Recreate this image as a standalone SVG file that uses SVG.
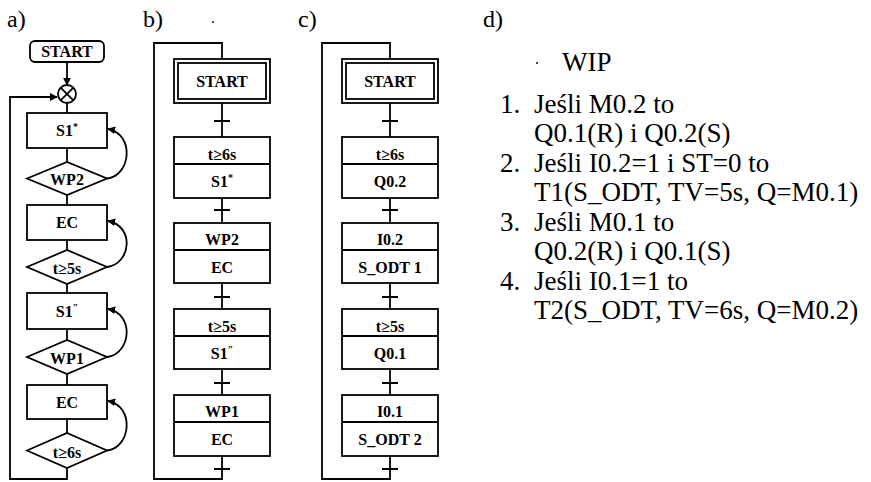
<svg xmlns="http://www.w3.org/2000/svg" width="871" height="482" viewBox="0 0 871 482" font-family="'Liberation Serif', 'DejaVu Serif', serif">
<style>
.lbl{font-size:24px;fill:#000}
.sh{fill:#fff;stroke:#000;stroke-width:1.8}
.ln{fill:none;stroke:#000;stroke-width:1.8}
.t{font-weight:bold;font-size:16px;text-anchor:middle;fill:#000}
.sup{font-size:10px}
.lt{font-size:27px;fill:#000}
</style>
<defs>
<marker id="ah" viewBox="0 0 10 10" refX="9" refY="5" markerWidth="8" markerHeight="8" markerUnits="userSpaceOnUse" orient="auto">
<path d="M0,0 L10,5 L0,10 z" fill="#000"/>
</marker>
</defs>
<rect width="871" height="482" fill="#fff"/>

<!-- panel labels -->
<text class="lbl" x="7" y="27">a)</text>
<text class="lbl" x="143" y="27">b)</text>
<text class="lbl" x="298" y="27">c)</text>
<text class="lbl" x="483" y="27">d)</text>
<circle cx="213" cy="22" r="0.9" fill="#000"/>

<!-- ===== a) flowchart ===== -->
<g id="connectors-a">
<line class="ln" x1="67" y1="62" x2="67" y2="85" marker-end="url(#ah)"/>
<line class="ln" x1="67" y1="103" x2="67" y2="113"/>
<line class="ln" x1="67" y1="148" x2="67" y2="162"/>
<line class="ln" x1="67" y1="195" x2="67" y2="205"/>
<line class="ln" x1="67" y1="240" x2="67" y2="250"/>
<line class="ln" x1="67" y1="284" x2="67" y2="293"/>
<line class="ln" x1="67" y1="329" x2="67" y2="340"/>
<line class="ln" x1="67" y1="374" x2="67" y2="385"/>
<line class="ln" x1="67" y1="419" x2="67" y2="433"/>
<polyline class="ln" points="67,468 67,479 10,479 10,97 57,97" marker-end="url(#ah)"/>
<path class="ln" d="M107,178.5 C131,176 135,134 108,129" marker-end="url(#ah)"/>
<path class="ln" d="M107,267 C131,264 135,226 108,221" marker-end="url(#ah)"/>
<path class="ln" d="M107,357 C131,354 135,314 108,309" marker-end="url(#ah)"/>
<path class="ln" d="M107,450.5 C131,448 135,406 108,401" marker-end="url(#ah)"/>
</g>
<g id="a-start"><rect class="sh" x="30" y="41" width="74" height="21" rx="5"/><text class="t" x="67" y="57">START</text></g>
<g id="a-merge"><circle class="sh" cx="67" cy="94" r="9"/><path class="ln" d="M60.6,87.6 L73.4,100.4 M73.4,87.6 L60.6,100.4"/></g>
<g id="a-s1a"><rect class="sh" x="27" y="113" width="80" height="35"/><text class="t" x="67" y="136">S1<tspan class="sup" dy="-6">*</tspan></text></g>
<g id="a-wp2"><polygon class="sh" points="27,178.5 67,162 107,178.5 67,195"/><text class="t" x="67" y="185">WP2</text></g>
<g id="a-ec1"><rect class="sh" x="27" y="205" width="80" height="35"/><text class="t" x="67" y="228">EC</text></g>
<g id="a-t5"><polygon class="sh" points="27,267 67,250 107,267 67,284"/><text class="t" x="67" y="274">t≥5s</text></g>
<g id="a-s1b"><rect class="sh" x="27" y="293" width="80" height="36"/><text class="t" x="67" y="317">S1<tspan class="sup" dy="-6">″</tspan></text></g>
<g id="a-wp1"><polygon class="sh" points="27,357 67,340 107,357 67,374"/><text class="t" x="67" y="364">WP1</text></g>
<g id="a-ec2"><rect class="sh" x="27" y="385" width="80" height="34"/><text class="t" x="67" y="408">EC</text></g>
<g id="a-t6"><polygon class="sh" points="27,450.5 67,433 107,450.5 67,468"/><text class="t" x="67" y="458">t≥6s</text></g>

<!-- ===== b) GRAFCET ===== -->
<g id="connectors-b">
<polyline class="ln" points="222,59 222,43 154,43 154,479 222,479 222,456"/>
<line class="ln" x1="222" y1="103" x2="222" y2="137"/>
<line class="ln" x1="222" y1="198" x2="222" y2="223"/>
<line class="ln" x1="222" y1="283" x2="222" y2="309"/>
<line class="ln" x1="222" y1="369" x2="222" y2="395"/>
<path class="ln" d="M214,121 H230 M214,210 H230 M214,297 H230 M214,383 H230 M214,469 H230"/>
</g>
<g id="b-start"><rect class="sh" x="174" y="59" width="96" height="44"/><rect class="ln" x="178" y="63" width="88" height="36"/><text class="t" x="222" y="87">START</text></g>
<g id="b-step1"><rect class="sh" x="174" y="137" width="96" height="61"/><line class="ln" x1="174" y1="164" x2="270" y2="164"/><text class="t" x="222" y="160">t≥6s</text><text class="t" x="222" y="187">S1<tspan class="sup" dy="-6">*</tspan></text></g>
<g id="b-step2"><rect class="sh" x="174" y="223" width="96" height="60"/><line class="ln" x1="174" y1="250" x2="270" y2="250"/><text class="t" x="222" y="245">WP2</text><text class="t" x="222" y="273">EC</text></g>
<g id="b-step3"><rect class="sh" x="174" y="309" width="96" height="60"/><line class="ln" x1="174" y1="336" x2="270" y2="336"/><text class="t" x="222" y="332">t≥5s</text><text class="t" x="222" y="359">S1<tspan class="sup" dy="-6">″</tspan></text></g>
<g id="b-step4"><rect class="sh" x="174" y="395" width="96" height="61"/><line class="ln" x1="174" y1="422" x2="270" y2="422"/><text class="t" x="222" y="417">WP1</text><text class="t" x="222" y="445">EC</text></g>

<!-- ===== c) GRAFCET ===== -->
<g id="connectors-c">
<polyline class="ln" points="390,59 390,43 322,43 322,479 390,479 390,456"/>
<line class="ln" x1="390" y1="103" x2="390" y2="137"/>
<line class="ln" x1="390" y1="198" x2="390" y2="223"/>
<line class="ln" x1="390" y1="283" x2="390" y2="309"/>
<line class="ln" x1="390" y1="369" x2="390" y2="395"/>
<path class="ln" d="M382,121 H398 M382,210 H398 M382,297 H398 M382,383 H398 M382,469 H398"/>
</g>
<g id="c-start"><rect class="sh" x="342" y="59" width="96" height="44"/><rect class="ln" x="346" y="63" width="88" height="36"/><text class="t" x="390" y="87">START</text></g>
<g id="c-step1"><rect class="sh" x="342" y="137" width="96" height="61"/><line class="ln" x1="342" y1="164" x2="438" y2="164"/><text class="t" x="390" y="160">t≥6s</text><text class="t" x="390" y="187">Q0.2</text></g>
<g id="c-step2"><rect class="sh" x="342" y="223" width="96" height="60"/><line class="ln" x1="342" y1="250" x2="438" y2="250"/><text class="t" x="390" y="245">I0.2</text><text class="t" x="390" y="273">S_ODT 1</text></g>
<g id="c-step3"><rect class="sh" x="342" y="309" width="96" height="60"/><line class="ln" x1="342" y1="336" x2="438" y2="336"/><text class="t" x="390" y="332">t≥5s</text><text class="t" x="390" y="359">Q0.1</text></g>
<g id="c-step4"><rect class="sh" x="342" y="395" width="96" height="61"/><line class="ln" x1="342" y1="422" x2="438" y2="422"/><text class="t" x="390" y="417">I0.1</text><text class="t" x="390" y="445">S_ODT 2</text></g>

<!-- ===== d) text ===== -->
<g id="d-text">
<circle cx="537" cy="63" r="1" fill="#000"/>
<text class="lt" x="562" y="71" font-size="24">WIP</text>
<text class="lt" x="500" y="113">1.</text><text class="lt" x="534" y="113">Jeśli M0.2 to</text>
<text class="lt" x="534" y="142">Q0.1(R) i Q0.2(S)</text>
<text class="lt" x="500" y="172">2.</text><text class="lt" x="534" y="172">Jeśli I0.2=1 i ST=0 to</text>
<text class="lt" x="534" y="201">T1(S_ODT, TV=5s, Q=M0.1)</text>
<text class="lt" x="500" y="231">3.</text><text class="lt" x="534" y="231">Jeśli M0.1 to</text>
<text class="lt" x="534" y="260">Q0.2(R) i Q0.1(S)</text>
<text class="lt" x="500" y="290">4.</text><text class="lt" x="534" y="290">Jeśli I0.1=1 to</text>
<text class="lt" x="534" y="319">T2(S_ODT, TV=6s, Q=M0.2)</text>
</g>
</svg>
